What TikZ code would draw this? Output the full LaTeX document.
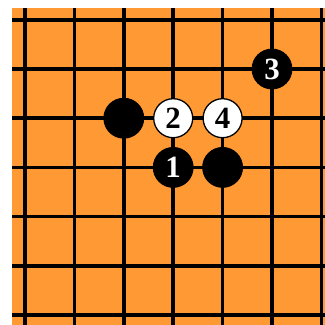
\documentclass[tikz,border=0pt]{standalone}
\usepackage{fontspec}
\setmainfont{Liberation Serif}
\begin{document}
\begin{tikzpicture}[x=1bp,y=-1bp,
  gridline/.style={line width=3.5bp,black},
  bstone/.style={circle,fill=black,draw=black,line width=0.8bp,minimum size=40bp,inner sep=0pt,text=white,font=\bfseries\fontsize{31}{31}\selectfont},
  wstone/.style={circle,fill=white,draw=black,line width=1.3bp,minimum size=39bp,inner sep=0pt,text=black,font=\bfseries\fontsize{31}{31}\selectfont}]
\useasboundingbox (0,0) rectangle (325,325);
\fill[white] (0,0) rectangle (325,325);
\fill[fill={rgb,255:red,255;green,153;blue,51}] (12,8) rectangle (325,325);
\begin{scope}
\clip (12,8) rectangle (325,325);
\foreach \i in {0,...,6} {
  \draw[gridline] ({25+49.4*\i},8) -- ({25+49.4*\i},325);
  \draw[gridline] (12,{19.8+49.2*\i}) -- (325,{19.8+49.2*\i});
}
\end{scope}
\node[bstone] (b0) at (123.8,118.2) {};
\node[wstone] (w2) at (173.2,118.2) {2};
\node[wstone] (w4) at (222.6,118.2) {4};
\node[bstone] (b1) at (173.2,167.4) {1};
\node[bstone] (b5) at (222.6,167.4) {};
\node[bstone] (b3) at (272,69) {3};
\end{tikzpicture}
\end{document}
